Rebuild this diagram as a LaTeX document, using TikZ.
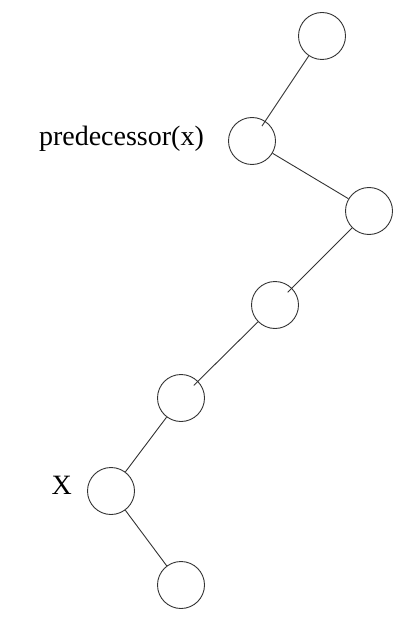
\documentclass[tikz,border=0pt]{standalone}
\usepackage{fontspec}
\setmainfont{Liberation Serif}
\usetikzlibrary{automata,positioning}

\begin{document}
\begin{tikzpicture}[node distance=94pt,on grid,
    every state/.style={draw=black!80,line width=0.9pt,minimum size=47pt,inner sep=0pt},
    every edge/.style={draw=black!80,line width=0.9pt},
    poke/.style={shorten >=-6pt},
    every label/.style={font=\fontsize{28}{34}\selectfont,inner sep=0pt}]
    \useasboundingbox (0,0) rectangle (413pt,-620pt);
    \node[state] (n_0) at (322pt,-36pt) {};
    \node[state,label={[label distance=24pt,yshift=2.5pt]left:predecessor(x)}] (n_1) [below left=105pt and 70pt of n_0] {};
    \node[state] (n_2) [below right=70pt and 117pt of n_1] {};
    \node[state] (n_3) [below left=94pt and 94pt of n_2] {};
    \node[state] (n_4) [below left=93pt and 94pt of n_3] {};
    \node[state,label={[label distance=15pt,yshift=6pt]left:X}] (n_5) [below left=93pt and 70pt of n_4] {};
    \node[state] (n_6) [below right=94pt and 70pt of n_5] {};
    \path
    (n_0) edge [poke] (n_1)
    (n_1) edge (n_2)
    (n_2) edge [poke] (n_3)
    (n_3) edge [poke] (n_4)
    (n_4) edge (n_5)
    (n_5) edge (n_6)
        ;

\end{tikzpicture}
\end{document}
